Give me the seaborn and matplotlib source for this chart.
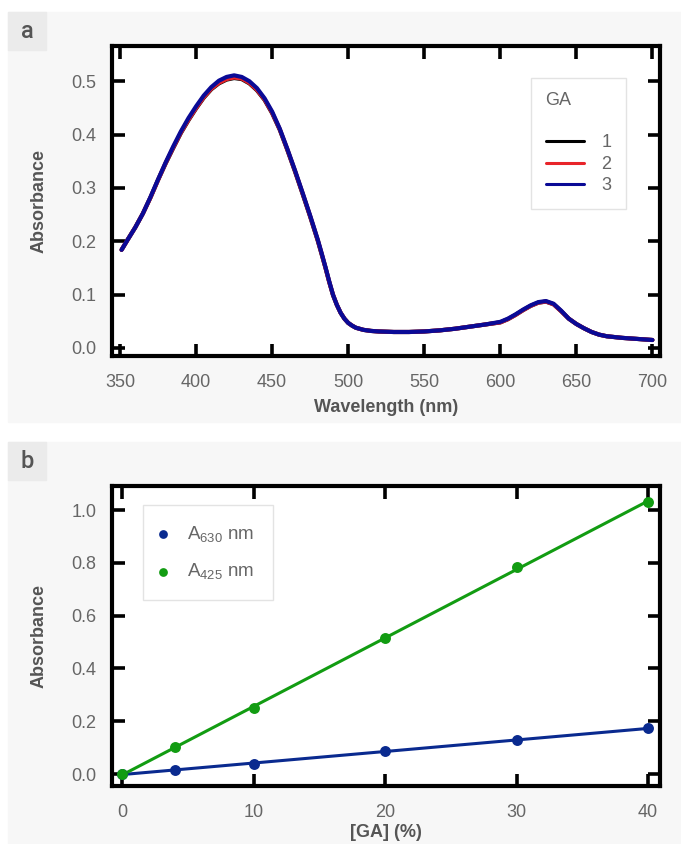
import matplotlib
matplotlib.use("Agg")
import matplotlib.pyplot as plt
from matplotlib.patches import Rectangle
import seaborn as sns
import pandas as pd

# spectra (panel a)
wavelength = [351, 355, 360, 365, 370, 375, 380, 385, 390, 395, 400, 405, 410, 415,
              420, 425, 430, 435, 440, 445, 450, 455, 460, 465, 470, 475, 480, 482.5,
              485, 487.5, 490, 492.5, 495, 497.5, 500, 502.5, 505, 507.5, 510, 515, 520,
              530, 540, 550, 560, 570, 580, 590, 600, 605, 610, 615, 620, 625, 630, 635,
              640, 645, 650, 655, 660, 665, 670, 680, 690, 700]
abs_ga3 = [0.184, 0.203, 0.226, 0.252, 0.283, 0.316, 0.348, 0.378, 0.406, 0.431, 0.453,
           0.473, 0.489, 0.501, 0.508, 0.511, 0.508, 0.500, 0.487, 0.468, 0.443, 0.411,
           0.373, 0.333, 0.291, 0.248, 0.203, 0.178, 0.152, 0.125, 0.100, 0.081, 0.066,
           0.055, 0.047, 0.042, 0.038, 0.036, 0.034, 0.032, 0.031, 0.030, 0.030, 0.031,
           0.033, 0.036, 0.040, 0.044, 0.049, 0.055, 0.063, 0.072, 0.080, 0.086, 0.088,
           0.083, 0.070, 0.055, 0.045, 0.037, 0.030, 0.025, 0.022, 0.019, 0.017, 0.015]
abs_ga2 = [0.184, 0.203, 0.226, 0.252, 0.282, 0.315, 0.347, 0.376, 0.404, 0.428, 0.450,
           0.470, 0.486, 0.497, 0.504, 0.507, 0.505, 0.497, 0.484, 0.466, 0.441, 0.410,
           0.372, 0.332, 0.290, 0.247, 0.202, 0.177, 0.151, 0.124, 0.100, 0.081, 0.066,
           0.055, 0.047, 0.042, 0.038, 0.036, 0.034, 0.032, 0.031, 0.030, 0.030, 0.031,
           0.033, 0.036, 0.040, 0.044, 0.048, 0.054, 0.062, 0.071, 0.079, 0.085, 0.087,
           0.082, 0.069, 0.055, 0.045, 0.037, 0.030, 0.025, 0.022, 0.019, 0.017, 0.015]
abs_ga1 = [0.184, 0.203, 0.226, 0.252, 0.282, 0.315, 0.346, 0.375, 0.403, 0.427, 0.449,
           0.469, 0.485, 0.496, 0.503, 0.506, 0.504, 0.496, 0.483, 0.465, 0.440, 0.409,
           0.371, 0.331, 0.289, 0.246, 0.201, 0.176, 0.151, 0.124, 0.099, 0.081, 0.066,
           0.055, 0.047, 0.042, 0.038, 0.036, 0.034, 0.032, 0.031, 0.030, 0.030, 0.031,
           0.033, 0.036, 0.040, 0.044, 0.048, 0.054, 0.062, 0.071, 0.079, 0.085, 0.087,
           0.082, 0.069, 0.055, 0.045, 0.037, 0.030, 0.025, 0.022, 0.019, 0.017, 0.015]

# calibration (panel b)
ga_pct = [0, 4, 10, 20, 30, 40]
a630 = [0.0, 0.015, 0.040, 0.086, 0.130, 0.173]
a425 = [0.0, 0.101, 0.249, 0.514, 0.783, 1.031]

spec = pd.concat([
    pd.DataFrame({"wl": wavelength, "A": abs_ga1, "GA": "1"}),
    pd.DataFrame({"wl": wavelength, "A": abs_ga2, "GA": "2"}),
    pd.DataFrame({"wl": wavelength, "A": abs_ga3, "GA": "3"}),
])

sns.set_style("ticks")
plt.rcParams["font.family"] = ["Liberation Sans", "DejaVu Sans"]
plt.rcParams["mathtext.fontset"] = "custom"
plt.rcParams["mathtext.rm"] = "Liberation Sans"
plt.rcParams["mathtext.it"] = "Liberation Sans:italic"
plt.rcParams["mathtext.bf"] = "Liberation Sans:bold"

W, H = 681, 844
fig = plt.figure(figsize=(W / 100, H / 100), dpi=100, facecolor="white")


def px_rect(x0, y0, x1, y1, color):
    fig.patches.append(Rectangle((x0 / W, 1 - y1 / H), (x1 - x0) / W, (y1 - y0) / H,
                                 transform=fig.transFigure, color=color, zorder=-10))


# panel backgrounds and letter boxes
px_rect(8, 12, 681, 422, "#f7f7f7")
px_rect(8, 442, 681, 844, "#f7f7f7")
px_rect(8, 12, 46, 50, "#ebebeb")
px_rect(8, 442, 46, 480, "#ebebeb")
fig.text(27 / W, 1 - 32 / H, "a", fontsize=17, color="#555555", ha="center", va="center",
         family=["Roboto", "Liberation Sans"], fontweight="medium")
fig.text(27 / W, 1 - 461 / H, "b", fontsize=17, color="#555555", ha="center", va="center",
         family=["Roboto", "Liberation Sans"], fontweight="medium")

tick_col = "#666666"
lab_col = "#555555"


def style_axes(ax):
    ax.set_facecolor("white")
    for s in ax.spines.values():
        s.set_visible(True)
        s.set_linewidth(3)
        s.set_color("black")
    ax.tick_params(direction="in", length=9, width=2.6, top=True, right=True,
                   labelsize=13, labelcolor=tick_col, color="black")
    ax.tick_params(axis="x", pad=13)
    ax.tick_params(axis="y", pad=11)


# ---- panel a
ax1 = fig.add_axes([112 / W, 1 - 356 / H, 548 / W, 310 / H])
sns.lineplot(data=spec, x="wl", y="A", hue="GA", palette=["black", "#e8242a", "#0a0a96"],
             linewidth=3.0, ax=ax1)
ax1.set_xlim(344.7, 705)
ax1.set_ylim(-0.015, 0.566)
ax1.set_xticks([350, 400, 450, 500, 550, 600, 650, 700])
ax1.set_yticks([0.0, 0.1, 0.2, 0.3, 0.4, 0.5])
ax1.set_yticklabels(["0.0", "0.1", "0.2", "0.3", "0.4", "0.5"])
ax1.set_xlabel("Wavelength (nm)", fontsize=13, fontweight="bold", color=lab_col, labelpad=6)
ax1.set_ylabel("Absorbance", fontsize=13, fontweight="bold", color=lab_col, labelpad=17)
style_axes(ax1)
leg1 = ax1.legend(title="GA", loc="upper right", bbox_to_anchor=(0.938, 0.897),
                  borderaxespad=0, frameon=True, fancybox=False, edgecolor="#dddddd",
                  fontsize=13, title_fontsize=13, handlelength=2.1, handletextpad=1.0,
                  labelspacing=0.25, borderpad=0.8, alignment="left")
leg1.get_frame().set_linewidth(1)
leg1.get_title().set_color(tick_col)
leg1._legend_box.sep = 18
for t in leg1.get_texts():
    t.set_color(tick_col)
for ln in leg1.get_lines():
    ln.set_linewidth(2.2)

# ---- panel b
ax2 = fig.add_axes([112 / W, 1 - 786 / H, 548 / W, 300 / H])
sns.regplot(x=ga_pct, y=a630, ci=None, ax=ax2, color="#0a2a8f", truncate=True,
            scatter_kws={"s": 62, "zorder": 3, "linewidths": 0, "alpha": 1},
            line_kws={"linewidth": 2.2}, label="A$_{630}$ nm")
sns.regplot(x=ga_pct, y=a425, ci=None, ax=ax2, color="#129c12", truncate=True,
            scatter_kws={"s": 62, "zorder": 3, "linewidths": 0, "alpha": 1},
            line_kws={"linewidth": 2.2}, label="A$_{425}$ nm")
ax2.set_xlim(-0.76, 40.9)
ax2.set_ylim(-0.045, 1.091)
ax2.set_xticks([0, 10, 20, 30, 40])
ax2.set_yticks([0.0, 0.2, 0.4, 0.6, 0.8, 1.0])
ax2.set_yticklabels(["0.0", "0.2", "0.4", "0.6", "0.8", "1.0"])
ax2.set_xlabel("[GA] (%)", fontsize=13, fontweight="bold", color=lab_col, labelpad=2)
ax2.set_ylabel("Absorbance", fontsize=13, fontweight="bold", color=lab_col, labelpad=17)
style_axes(ax2)
leg2 = ax2.legend(loc="upper left", bbox_to_anchor=(0.057, 0.937), borderaxespad=0,
                  frameon=True, fancybox=False, edgecolor="#dddddd", fontsize=13.5,
                  handlelength=0.1, handletextpad=1.25, labelspacing=0.95, borderpad=1.0,
                  markerscale=0.8)
leg2.get_frame().set_linewidth(1)
for t in leg2.get_texts():
    t.set_color(tick_col)

fig.savefig("out.png", dpi=100, facecolor="white")
